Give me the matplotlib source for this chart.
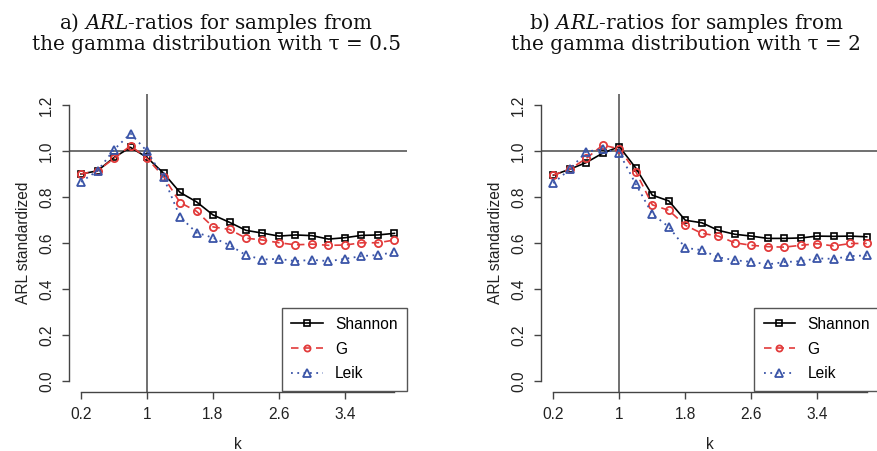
import numpy as np
import matplotlib
matplotlib.use("Agg")
import matplotlib.pyplot as plt

plt.rcParams['font.family'] = ['Liberation Sans', 'DejaVu Sans']
plt.rcParams['mathtext.fontset'] = 'dejavuserif'

# k values (0.2 .. 4.0 by 0.2)
k = [0.2, 0.4, 0.6, 0.8, 1.0, 1.2, 1.4, 1.6, 1.8, 2.0,
     2.2, 2.4, 2.6, 2.8, 3.0, 3.2, 3.4, 3.6, 3.8, 4.0]

# panel a) tau = 0.5
shannon_a = [0.900, 0.914, 0.972, 1.016, 0.972, 0.904, 0.820, 0.779, 0.722, 0.690,
             0.655, 0.643, 0.630, 0.635, 0.632, 0.617, 0.623, 0.633, 0.635, 0.642]
g_a = [0.900, 0.914, 0.968, 1.023, 0.968, 0.889, 0.776, 0.738, 0.670, 0.659,
       0.621, 0.613, 0.601, 0.592, 0.595, 0.590, 0.591, 0.601, 0.601, 0.613]
leik_a = [0.866, 0.914, 1.006, 1.076, 0.999, 0.885, 0.714, 0.645, 0.623, 0.591,
          0.547, 0.528, 0.531, 0.521, 0.527, 0.521, 0.531, 0.543, 0.548, 0.560]

# panel b) tau = 2
shannon_b = [0.895, 0.921, 0.950, 0.991, 1.019, 0.926, 0.808, 0.783, 0.699, 0.688,
             0.655, 0.638, 0.630, 0.620, 0.620, 0.622, 0.630, 0.629, 0.630, 0.627]
g_b = [0.895, 0.921, 0.968, 1.026, 1.009, 0.910, 0.766, 0.742, 0.677, 0.642,
       0.630, 0.601, 0.590, 0.584, 0.582, 0.590, 0.597, 0.587, 0.598, 0.598]
leik_b = [0.860, 0.921, 0.997, 1.009, 0.991, 0.856, 0.726, 0.670, 0.579, 0.569,
          0.538, 0.525, 0.518, 0.507, 0.517, 0.521, 0.533, 0.531, 0.543, 0.546]

xticks = [0.2, 1.0, 1.8, 2.6, 3.4]
xticklabels = ['0.2', '1', '1.8', '2.6', '3.4']
yticks = [0.0, 0.2, 0.4, 0.6, 0.8, 1.0, 1.2]

titles = [("a) $\\mathit{ARL}$-ratios for samples from", "the gamma distribution with \u03c4 = 0.5"),
          ("b) $\\mathit{ARL}$-ratios for samples from", "the gamma distribution with \u03c4 = 2")]

W, H = 877, 451
fig = plt.figure(figsize=(W / 100, H / 100), dpi=100)

axcol = '#444444'
red = '#e23b3b'
blue = '#3b55a8'


def panel(left_px, sh, g, le):
    ax = fig.add_axes([left_px / W, (H - 392) / H, 338.5 / W, 298 / H])
    ax.set_xlim(0.048, 4.152)
    ax.set_ylim(-0.048, 1.248)
    ax.axhline(1.0, color='#707070', lw=1.4, zorder=1)
    ax.axvline(1.0, color='#707070', lw=1.4, zorder=1)
    ax.plot(k, sh, color='black', lw=1.2, marker='s', ms=4.8, mfc='none', mew=1.2,
            label='Shannon', zorder=3)
    ax.plot(k, g, color=red, lw=1.2, ls=(0, (4.5, 3)), marker='o', ms=5.2, mfc='none',
            mew=1.3, label='G', zorder=4)
    ax.plot(k, le, color=blue, lw=1.3, ls=(0, (1, 2.5)), marker='^', ms=6, mfc='none',
            mew=1.3, label='Leik', zorder=5)
    for s in ['top', 'right']:
        ax.spines[s].set_visible(False)
    ax.spines['left'].set_bounds(0.0, 1.2)
    ax.spines['bottom'].set_bounds(0.2, 4.0)
    for s in ['left', 'bottom']:
        ax.spines[s].set_color(axcol)
        ax.spines[s].set_linewidth(1.0)
    ax.set_xticks(xticks)
    ax.set_xticklabels(xticklabels)
    ax.set_yticks(yticks)
    ax.set_yticklabels(['%.1f' % v for v in yticks], rotation=90, va='center')
    ax.tick_params(length=5, width=1.0, color=axcol, labelsize=11.2,
                   labelcolor='#222222', pad=5.5)
    ax.set_xlabel('k', fontsize=11.2, color='#222222')
    ax.set_ylabel('ARL standardized', fontsize=11.2, color='#222222')
    ax.xaxis.set_label_coords(0.5, -0.15)
    ax.yaxis.set_label_coords(-0.112, 0.5)
    leg = ax.legend(loc='lower right', bbox_to_anchor=(1.0, 0.005), borderaxespad=0,
                    fancybox=False, framealpha=1, edgecolor='#555555', fontsize=11.2,
                    handlelength=2.0, handletextpad=0.8, borderpad=0.6,
                    labelspacing=0.62, markerscale=0.85)
    leg.get_frame().set_linewidth(1.0)
    leg.set_zorder(10)
    return ax


panel(68.5, shannon_a, g_a, leik_a)
panel(540.8, shannon_b, g_b, leik_b)

for cx, (l1, l2) in zip([216, 686], titles):
    fig.text(cx / W, (H - 29) / H, l1, ha='center', va='baseline',
             family='DejaVu Serif', fontsize=14.4, color='#111111')
    fig.text(cx / W, (H - 50.5) / H, l2, ha='center', va='baseline',
             family='DejaVu Serif', fontsize=14.4, color='#111111')

fig.savefig('out.png', dpi=100)
